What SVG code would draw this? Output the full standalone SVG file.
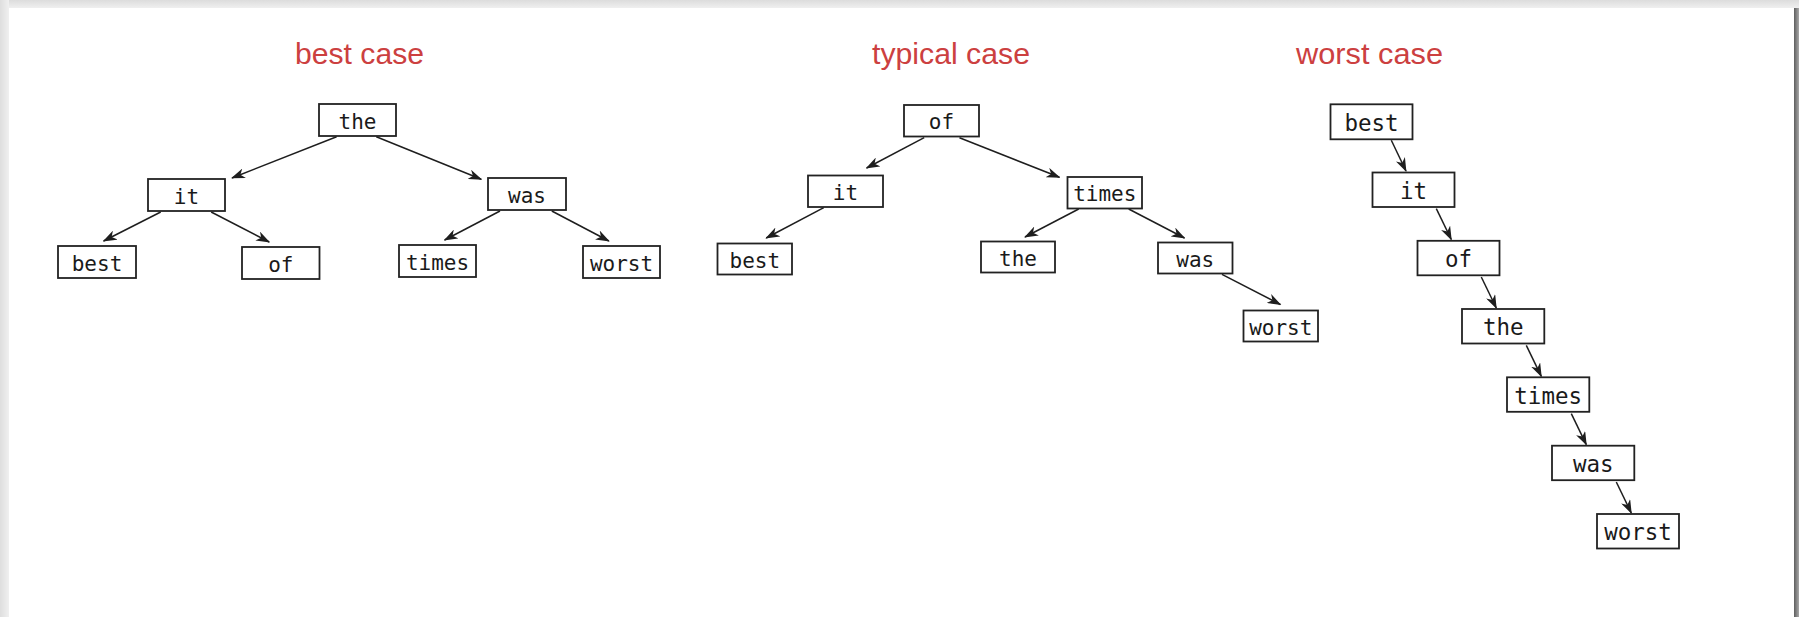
<svg xmlns="http://www.w3.org/2000/svg" width="1799" height="617" viewBox="0 0 1799 617">
  <defs>
    <linearGradient id="topShade" x1="0" y1="0" x2="0" y2="1">
      <stop offset="0" stop-color="#dcdcdc"/>
      <stop offset="1" stop-color="#f2f2f2"/>
    </linearGradient>
    <linearGradient id="leftShade" x1="0" y1="0" x2="1" y2="0">
      <stop offset="0" stop-color="#dedede"/>
      <stop offset="1" stop-color="#f0f0f0"/>
    </linearGradient>
    <linearGradient id="rightShade" x1="0" y1="0" x2="1" y2="0">
      <stop offset="0" stop-color="#5e5e5e"/>
      <stop offset="1" stop-color="#a8a8a8"/>
    </linearGradient>
    <marker id="arrow" viewBox="0 0 14 10" refX="13" refY="5" markerWidth="14" markerHeight="10" markerUnits="userSpaceOnUse" orient="auto">
      <path d="M0,0 L14,5 L0,10 L4,5 Z" fill="#1e1e1e"/>
    </marker>
  </defs>
  <style>
    .title { font-family: "Comic Sans MS", "Liberation Sans", sans-serif; font-size: 29px; fill: #cc4040; }
    .box { fill: #ffffff; stroke: #222222; stroke-width: 1.8; }
    .lbl { font-family: "DejaVu Sans Mono", "Liberation Mono", monospace; font-size: 21px; fill: #1a1a1a; text-anchor: middle; }
    .lbl-lg { font-family: "DejaVu Sans Mono", "Liberation Mono", monospace; font-size: 22.5px; fill: #1a1a1a; text-anchor: middle; }
    .edge { stroke: #1e1e1e; stroke-width: 1.5; fill: none; marker-end: url(#arrow); }
  </style>

  <!-- page with drop shadow -->
  <rect x="0" y="0" width="1799" height="617" fill="#ececec"/>
  <rect x="0" y="0" width="1799" height="9" fill="url(#topShade)"/>
  <rect x="0" y="0" width="9" height="617" fill="url(#leftShade)"/>
  <rect x="1794" y="8" width="5" height="609" fill="url(#rightShade)"/>
  <rect x="9" y="8" width="1785" height="609" fill="#ffffff"/>

  <!-- section titles -->
  <text class="title" x="295" y="64" textLength="129" lengthAdjust="spacingAndGlyphs">best case</text>
  <text class="title" x="872" y="64" textLength="158" lengthAdjust="spacingAndGlyphs">typical case</text>
  <text class="title" x="1296" y="64" textLength="147" lengthAdjust="spacingAndGlyphs">worst case</text>

  <!-- connectors -->
  <g id="connectors">
    <!-- best case -->
    <line class="edge" x1="336.6" y1="136.7" x2="232" y2="178"/>
    <line class="edge" x1="376.3" y1="136.7" x2="481.3" y2="179.3"/>
    <line class="edge" x1="160.7" y1="212" x2="103.6" y2="241"/>
    <line class="edge" x1="211.2" y1="212" x2="269.2" y2="242"/>
    <line class="edge" x1="500" y1="211" x2="444.6" y2="240"/>
    <line class="edge" x1="551.8" y1="211" x2="608.9" y2="241"/>
    <!-- typical case -->
    <line class="edge" x1="924.2" y1="137.7" x2="866.6" y2="168"/>
    <line class="edge" x1="959.5" y1="137.7" x2="1059.5" y2="177.3"/>
    <line class="edge" x1="823.8" y1="207.7" x2="766.2" y2="238"/>
    <line class="edge" x1="1078.7" y1="209" x2="1025" y2="237"/>
    <line class="edge" x1="1128.7" y1="209" x2="1184.5" y2="238"/>
    <line class="edge" x1="1222" y1="274.3" x2="1280.4" y2="304.5"/>
    <!-- worst case -->
    <line class="edge" x1="1391.3" y1="140.3" x2="1406" y2="171"/>
    <line class="edge" x1="1436.3" y1="208.7" x2="1451.3" y2="239.5"/>
    <line class="edge" x1="1481.3" y1="277" x2="1496.3" y2="308"/>
    <line class="edge" x1="1526.3" y1="345.3" x2="1541.3" y2="376.3"/>
    <line class="edge" x1="1571.3" y1="413.7" x2="1586.3" y2="444.7"/>
    <line class="edge" x1="1616.3" y1="482" x2="1631.3" y2="513"/>
  </g>

  <!-- best case tree -->
  <g id="best-the"><rect class="box" x="319" y="104" width="77" height="32"/><text class="lbl" x="357.5" y="128.5">the</text></g>
  <g id="best-it"><rect class="box" x="148" y="179" width="77" height="32"/><text class="lbl" x="186.5" y="203.5">it</text></g>
  <g id="best-was"><rect class="box" x="488" y="178" width="78" height="32"/><text class="lbl" x="527" y="202.5">was</text></g>
  <g id="best-best"><rect class="box" x="58" y="246" width="78" height="32"/><text class="lbl" x="97" y="270.5">best</text></g>
  <g id="best-of"><rect class="box" x="242" y="247" width="77.5" height="32"/><text class="lbl" x="280.8" y="271.5">of</text></g>
  <g id="best-times"><rect class="box" x="399" y="245" width="77" height="32"/><text class="lbl" x="437.5" y="269.5">times</text></g>
  <g id="best-worst"><rect class="box" x="583" y="246" width="77" height="32"/><text class="lbl" x="621.5" y="270.5">worst</text></g>

  <!-- typical case tree -->
  <g id="typ-of"><rect class="box" x="904" y="105" width="75" height="31.5"/><text class="lbl" x="941.5" y="129">of</text></g>
  <g id="typ-it"><rect class="box" x="808" y="175.5" width="75" height="31.5"/><text class="lbl" x="845.5" y="199.5">it</text></g>
  <g id="typ-times"><rect class="box" x="1067.5" y="177" width="74.5" height="31.5"/><text class="lbl" x="1104.8" y="201">times</text></g>
  <g id="typ-best"><rect class="box" x="717.5" y="243.5" width="74.5" height="31"/><text class="lbl" x="754.8" y="267.5">best</text></g>
  <g id="typ-the"><rect class="box" x="981" y="241.5" width="74" height="31"/><text class="lbl" x="1018" y="265.5">the</text></g>
  <g id="typ-was"><rect class="box" x="1158" y="242.5" width="74.5" height="31"/><text class="lbl" x="1195.3" y="266.5">was</text></g>
  <g id="typ-worst"><rect class="box" x="1243.5" y="310.5" width="74.5" height="31"/><text class="lbl" x="1280.8" y="334.5">worst</text></g>

  <!-- worst case chain -->
  <g id="worst-best"><rect class="box" x="1330.5" y="104.3" width="82" height="35"/><text class="lbl-lg" x="1371.5" y="130.7">best</text></g>
  <g id="worst-it"><rect class="box" x="1372.5" y="172.5" width="82" height="34.5"/><text class="lbl-lg" x="1413.5" y="198.7">it</text></g>
  <g id="worst-of"><rect class="box" x="1417.5" y="240.8" width="82" height="34.5"/><text class="lbl-lg" x="1458.5" y="267">of</text></g>
  <g id="worst-the"><rect class="box" x="1462" y="309" width="82.3" height="34.5"/><text class="lbl-lg" x="1503.2" y="335.2">the</text></g>
  <g id="worst-times"><rect class="box" x="1507" y="377.3" width="82.3" height="34.5"/><text class="lbl-lg" x="1548.2" y="403.5">times</text></g>
  <g id="worst-was"><rect class="box" x="1552" y="445.7" width="82.3" height="34.5"/><text class="lbl-lg" x="1593.2" y="471.9">was</text></g>
  <g id="worst-worst"><rect class="box" x="1597" y="514" width="82" height="34.5"/><text class="lbl-lg" x="1638" y="540.2">worst</text></g>
</svg>
